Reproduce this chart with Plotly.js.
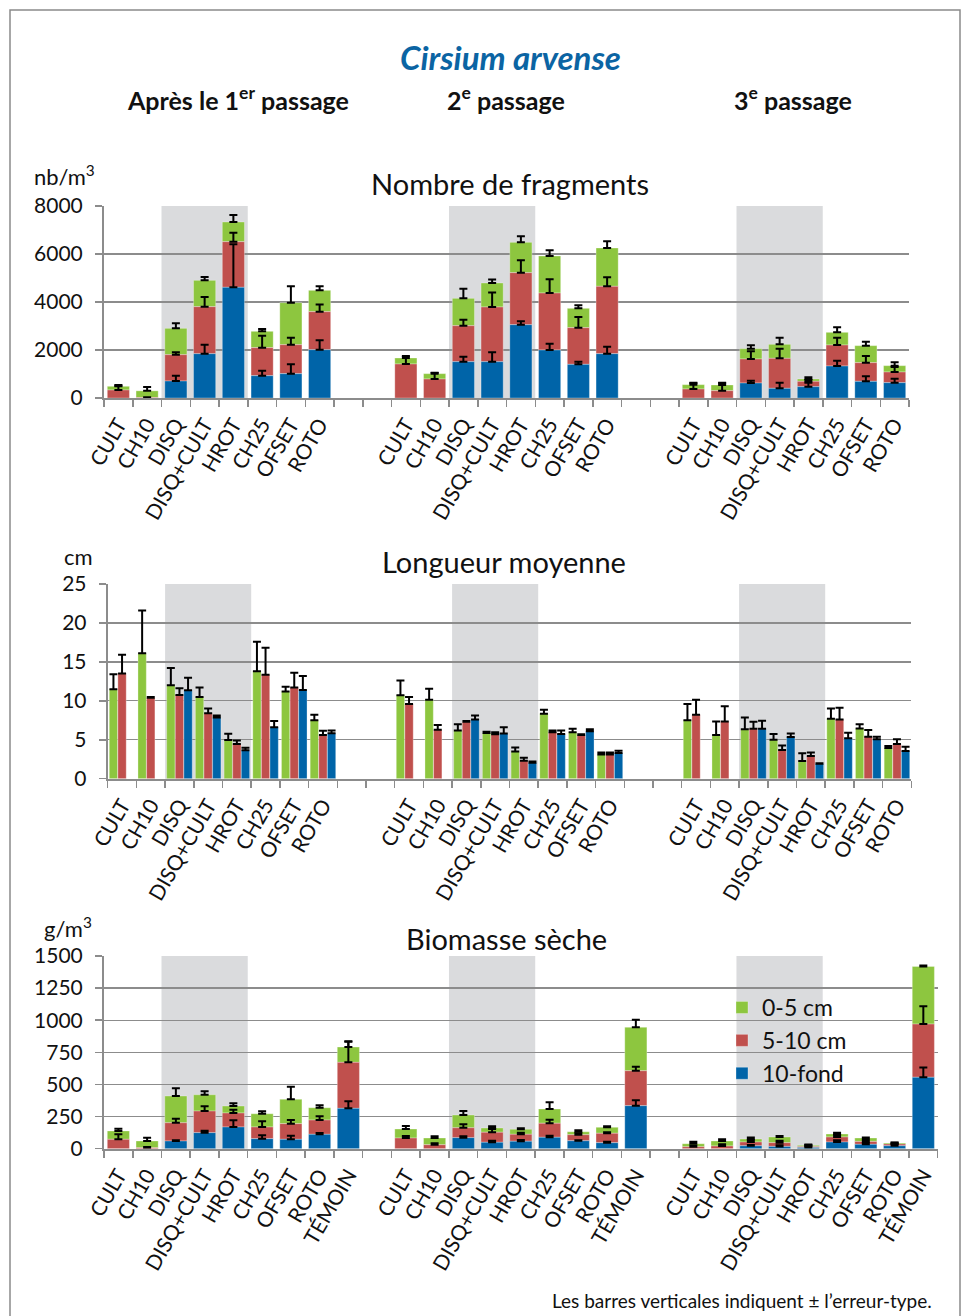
<!DOCTYPE html>
<html><head><meta charset="utf-8">
<script src="https://cdn.plot.ly/plotly-3.0.1.min.js"></script>
<style>html,body{margin:0;padding:0;background:#fff}#chart{width:962px;height:1316px}</style>
</head><body><div id="chart"></div>
<script>
// ---------- DATA ----------
const treatments = ['CULT','CH10','DISQ','DISQ+CULT','HROT','CH25','OFSET','ROTO'];
const treatmentsBio = ['CULT','CH10','DISQ','DISQ+CULT','HROT','CH25','OFSET','ROTO','TÉMOIN'];
const passageLabels = ['Après le 1<sup>er</sup> passage','2<sup>e</sup> passage','3<sup>e</sup> passage'];
const layerNames = ['0-5 cm','5-10 cm','10-fond'];
const shadedTreatments = ['DISQ','DISQ+CULT','HROT'];

// Nombre de fragments (nb/m3) — one row per passage
const fragGreen    = [[154,278,1097,1097,819,681,1750,889],[250,222,1139,1000,1264,1542,805,1597],[181,236,431,583,98,528,709,264]];
const fragGreenErr = [[50,160,210,140,290,100,680,170],[30,30,400,150,250,236,125,278],[83,97,138,278,69,208,166,139]];
const fragRed      = [[333,20,1098,1959,1903,1167,1208,1583],[1417,792,1500,2278,2166,2375,1528,2806],[375,306,1000,1250,222,875,778,444]];
const fragRedErr   = [[180,10,100,400,375,500,290,300],[330,260,250,600,515,570,444,375],[236,305,319,403,56,306,278,209]];
const fragBlue     = [[null,null,708,1847,4611,930,1014,2014],[null,null,1514,1514,3056,2000,1403,1847],[null,null,625,403,472,1333,694,639]];
const fragBlueErr  = [[null,null,220,375,1800,210,390,390],[null,null,208,390,140,264,110,292],[null,null,97,236,167,222,208,167]];

// Longueur moyenne (cm)
const lenGreen    = [[11.5,16.1,12.0,10.5,4.97,13.8,11.2,7.5],[10.7,10.15,6.2,5.87,3.5,8.35,5.95,3.1],[7.5,5.6,6.35,5.0,2.27,7.7,6.45,3.95]];
const lenGreenErr = [[1.9,5.5,2.2,1.2,0.8,3.8,0.6,0.7],[1.9,1.4,0.8,0.15,0.5,0.5,0.45,0.25],[2.1,1.75,1.5,0.75,1.0,1.3,0.55,0.25]];
const lenRed      = [[13.5,10.4,10.75,8.4,4.45,13.35,11.7,5.6],[9.6,6.3,7.3,5.7,2.3,5.95,5.6,3.1],[8.2,7.35,6.4,3.7,2.9,7.6,5.4,4.45]];
const lenRedErr   = [[2.4,0.1,0.85,0.6,0.45,3.45,1.9,0.55],[0.9,0.6,0.1,0.25,0.4,0.25,0.1,0.25],[1.95,1.95,0.9,0.55,0.45,1.5,0.85,0.6]];
const lenBlue     = [[null,null,11.35,7.85,3.64,6.6,11.4,5.85],[null,null,7.6,5.8,2.05,5.75,6.1,3.3],[null,null,6.4,5.35,1.93,5.2,5.05,3.55]];
const lenBlueErr  = [[null,null,1.6,0.25,0.35,0.8,1.8,0.35],[null,null,0.5,0.8,0.15,0.45,0.25,0.3],[null,null,1.05,0.45,0.05,0.7,0.35,0.55]];

// Biomasse sèche (g/m3)
const bioGreen    = [[65,52,208,127,54,103,189,96,119],[70,52,99,33,39,111,23,46,338],[24,39,23,44,8,23,26,8,449]];
const bioGreenErr = [[18,26,60,27,21,19,98,19,45],[24,13,31,13,8,52,11,8,59],[16,13,13,8,6,11,5,5,8]];
const bioRed      = [[73,8,142,168,109,91,122,111,358],[83,31,77,78,54,109,47,73,272],[15,21,29,29,8,39,23,13,414]];
const bioRedErr   = [[39,5,31,37,26,44,28,29,160],[16,11,27,25,13,28,11,8,31],[8,13,13,15,10,16,11,10,138]];
const bioBlue     = [[null,null,60,125,169,78,73,112,314],[null,null,86,50,58,89,62,47,335],[null,null,23,18,10,52,34,23,556]];
const bioBlueErr  = [[null,null,6,15,52,26,28,10,55],[null,null,10,12,10,12,3,7,42],[null,null,6,9,8,13,10,13,77]];

// ---------- STYLE ----------
const FONT = 'Lato, "Open Sans", "Noto Sans", sans-serif';
const C_GREEN = '#8dc63f', C_RED = '#c0504d', C_BLUE = '#0064a8';
const C_SHADE = '#dadbdd', C_GRID = '#8c8c8c', C_AXIS = '#8c8c8c';
const W = 962, H = 1316;
const px = v => v / W;
const py = v => 1 - v / H;

// ---------- BUILD ----------
function flatten(rows, labels, stride) {
  const x = [], v = [];
  rows.forEach((row, p) => row.forEach((val, i) => { x.push(p * stride + i); v.push(val); }));
  return {x, v};
}
const strideTop = treatments.length + 2;
const strideBio = treatmentsBio.length + 1;

const traces = [];
const errStyle = (arr) => ({type:'data', symmetric:false, array:arr, arrayminus:arr.map(()=>0), color:'#000', thickness:2, width:4});
const barLine = {color:'rgba(255,255,255,0.5)', width:0.6};

function stacked(gRows, gErr, rRows, rErr, bRows, bErr, labels, stride, xa, ya, showLeg) {
  const g = flatten(gRows, labels, stride), ge = flatten(gErr, labels, stride);
  const r = flatten(rRows, labels, stride), re = flatten(rErr, labels, stride);
  const b = flatten(bRows, labels, stride), be = flatten(bErr, labels, stride);
  const baseRed = b.v.map(v => v || 0);
  const baseGreen = b.v.map((v, i) => (v || 0) + (r.v[i] || 0));
  const common = {type:'bar', xaxis:xa, yaxis:ya, width:0.77, hoverinfo:'x+y'};
  traces.push(Object.assign({}, common, {x:g.x, y:g.v, base:baseGreen, name:layerNames[0], legendgroup:'g', showlegend:showLeg,
    marker:{color:C_GREEN, line:barLine}, error_y:errStyle(ge.v)}));
  traces.push(Object.assign({}, common, {x:r.x, y:r.v, base:baseRed, name:layerNames[1], legendgroup:'r', showlegend:showLeg,
    marker:{color:C_RED, line:barLine}, error_y:errStyle(re.v)}));
  traces.push(Object.assign({}, common, {x:b.x, y:b.v, base:b.v.map(()=>0), name:layerNames[2], legendgroup:'b', showlegend:showLeg,
    marker:{color:C_BLUE, line:barLine}, error_y:errStyle(be.v)}));
}
function grouped(gRows, gErr, rRows, rErr, bRows, bErr, labels, stride, xa, ya) {
  const sets = [[gRows,gErr,C_GREEN,0,-0.445],[rRows,rErr,C_RED,1,-0.145],[bRows,bErr,C_BLUE,2,0.155]];
  sets.forEach(([rows, err, col, k, off]) => {
    const d = flatten(rows, labels, stride), e = flatten(err, labels, stride);
    traces.push({type:'bar', xaxis:xa, yaxis:ya, x:d.x, y:d.v, width:0.29, offset:off, name:layerNames[k],
      legendgroup:['g','r','b'][k], showlegend:false, marker:{color:col, line:barLine}, error_y:errStyle(e.v)});
  });
}

stacked(fragGreen, fragGreenErr, fragRed, fragRedErr, fragBlue, fragBlueErr, treatments, strideTop, 'x', 'y', true);
grouped(lenGreen, lenGreenErr, lenRed, lenRedErr, lenBlue, lenBlueErr, treatments, strideTop, 'x2', 'y2');
stacked(bioGreen, bioGreenErr, bioRed, bioRedErr, bioBlue, bioBlueErr, treatmentsBio, strideBio, 'x3', 'y3', false);

function tickInfo(labels, stride) {
  const vals = [], text = [];
  for (let p = 0; p < 3; p++) labels.forEach((l, i) => { vals.push(p * stride + i); text.push(l); });
  return {vals, text};
}
const tTop = tickInfo(treatments, strideTop), tBio = tickInfo(treatmentsBio, strideBio);

function xAxis(domain, n, ti, anchor) {
  return {domain, anchor, range:[-0.5, n - 0.5], tickmode:'array', tickvals:ti.vals, ticktext:ti.text, tickangle:-60,
    ticks:'', showgrid:false, zeroline:false, showline:true, linecolor:C_AXIS, linewidth:2,
    tickfont:{family:FONT, size:21, color:'#111'}, ticklabelstandoff:4,
    minor:{tickmode:'linear', tick0:-0.5, dtick:1, ticks:'outside', ticklen:7, tickcolor:C_AXIS, tickwidth:1.5, showgrid:false}};
}
function yAxis(domain, range, dtick, anchor) {
  return {domain, anchor, range, dtick, tick0:0, tickmode:'linear', showgrid:true, gridcolor:C_GRID, gridwidth:1.3,
    zeroline:false, showline:true, linecolor:C_AXIS, linewidth:2, ticks:'outside', ticklen:7, tickcolor:C_AXIS, tickwidth:1.5,
    tickfont:{family:FONT, size:21, color:'#111'}, ticklabelstandoff:8};
}

const shapes = [];
// frame
shapes.push({type:'rect', xref:'paper', yref:'paper', x0:px(10), x1:px(960), y0:-0.05, y1:py(10), line:{color:'#8a8a8a', width:1.5}, fillcolor:'rgba(0,0,0,0)', layer:'below'});
function shade(labels, stride, xa, ya) {
  const i0 = labels.indexOf(shadedTreatments[0]), i1 = labels.indexOf(shadedTreatments[shadedTreatments.length - 1]);
  for (let p = 0; p < 3; p++) shapes.push({type:'rect', xref:xa, yref:ya + ' domain', x0:p*stride + i0 - 0.5, x1:p*stride + i1 + 0.5,
    y0:0, y1:1, fillcolor:C_SHADE, line:{width:0}, layer:'below'});
}
shade(treatments, strideTop, 'x', 'y');
shade(treatments, strideTop, 'x2', 'y2');
shade(treatmentsBio, strideBio, 'x3', 'y3');

const ann = (text, x, y, size, opts) => Object.assign({text, x:px(x), y:py(y), xref:'paper', yref:'paper', showarrow:false,
  xanchor:'center', yanchor:'middle', font:{family:FONT, size, color:'#111'}}, opts || {});
const annotations = [
  ann('<b><i>Cirsium arvense</i></b>', 510, 57, 33, {font:{family:FONT, size:33, color:'#0b64a3'}}),
  ann('<b>' + passageLabels[0] + '</b>', 238, 99, 25),
  ann('<b>' + passageLabels[1] + '</b>', 506, 99, 25),
  ann('<b>' + passageLabels[2] + '</b>', 793, 99, 25),
  ann('Nombre de fragments', 510, 184, 29),
  ann('Longueur moyenne', 504, 561, 29),
  ann('Biomasse sèche', 507, 938, 29),
  ann('nb/m<sup>3</sup>', 32, 175, 22, {xanchor:'left'}),
  ann('cm', 62, 556, 22, {xanchor:'left'}),
  ann('g/m<sup>3</sup>', 42, 927, 22, {xanchor:'left'}),
  ann('Les barres verticales indiquent ± l’erreur-type.', 934, 1300, 19, {xanchor:'right'})
];

const layout = {
  width:W, height:H, margin:{l:0, r:0, t:0, b:0}, paper_bgcolor:'#fff', plot_bgcolor:'rgba(0,0,0,0)',
  barmode:'overlay', font:{family:FONT, color:'#111'},
  xaxis: xAxis([px(104), px(909)], 28, tTop, 'y'),
  yaxis: yAxis([py(398), py(206)], [0, 8000], 2000, 'x'),
  xaxis2: xAxis([px(107.7), px(911.3)], 28, tTop, 'y2'),
  yaxis2: yAxis([py(778.7), py(584)], [0, 25], 5, 'x2'),
  xaxis3: xAxis([px(104), px(937.7)], 29, tBio, 'y3'),
  yaxis3: yAxis([py(1148.7), py(956)], [0, 1500], 250, 'x3'),
  legend:{x:px(722), y:py(986), xanchor:'left', yanchor:'top', bgcolor:'rgba(0,0,0,0)', borderwidth:0,
    font:{family:FONT, size:23, color:'#111'}, traceorder:'normal', tracegroupgap:0},
  shapes, annotations, showlegend:true
};

Plotly.newPlot('chart', traces, layout, {staticPlot:true});
</script>
</body></html>
